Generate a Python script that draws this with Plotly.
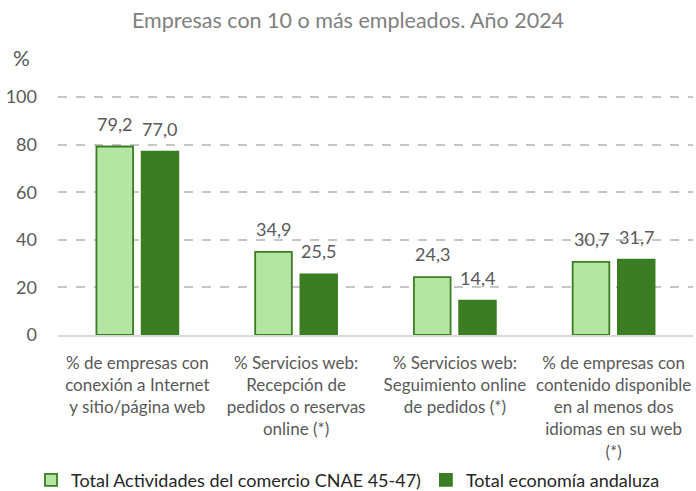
import plotly.graph_objects as go

# Data
categories = [
    '% de empresas con<br>conexión a Internet<br>y sitio/página web',
    '% Servicios web:<br>Recepción de<br>pedidos o reservas<br>online (*)',
    '% Servicios web:<br>Seguimiento online<br>de pedidos (*)',
    '% de empresas con<br>contenido disponible<br>en al menos dos<br>idiomas en su web<br>(*)',
]
comercio = [79.2, 34.9, 24.3, 30.7]
andalucia = [77.0, 25.5, 14.4, 31.7]
series_names = ['Total Actividades del comercio CNAE 45-47)', 'Total economía andaluza']
y_ticks = [0, 20, 40, 60, 80, 100]

colors = {
    'light': '#b4e5a2',
    'dark': '#3a7d22',
    'text': '#595959',
    'grid': '#c6c6c6',
}
FONT = 'Lato, Calibri, sans-serif'

fig = go.Figure()
fig.add_trace(go.Bar(
    x=categories, y=comercio, name=series_names[0],
    marker=dict(color=colors['light'], line=dict(color=colors['dark'], width=1.8)),
))
fig.add_trace(go.Bar(
    x=categories, y=andalucia, name=series_names[1],
    marker=dict(color=colors['dark'], line=dict(color=colors['dark'], width=1.8)),
))

# value labels above the bars
for vals, shift in ((comercio, -22.5), (andalucia, 22.5)):
    for cat, v in zip(categories, vals):
        fig.add_annotation(
            x=cat, y=v, text=f'{v:.1f}'.replace('.', ','),
            xshift=shift, yshift=23, yanchor='middle', showarrow=False,
            font=dict(size=18, color=colors['text'], family=FONT),
        )

# "%" unit label above the y axis
fig.add_annotation(
    text='%', x=-0.058, y=1.158, xref='paper', yref='paper',
    xanchor='center', yanchor='middle', showarrow=False,
    font=dict(size=21, color=colors['text'], family=FONT),
)

fig.update_layout(
    width=696, height=491,
    title=dict(text='Empresas con 10 o más empleados. Año 2024', x=0.5, xanchor='center',
               y=0.959, yanchor='middle', yref='container',
               font=dict(size=21.5, color='#808080', family=FONT)),
    font=dict(family=FONT, color=colors['text']),
    plot_bgcolor='white', paper_bgcolor='white',
    barmode='group', bargap=0.43, bargroupgap=0.19,
    margin=dict(l=58, r=3, t=95, b=156),
    showlegend=True,
    legend=dict(orientation='h', x=0.5, xanchor='center', xref='container',
                y=0.022, yanchor='middle', yref='container',
                font=dict(size=18, color='#262626', family=FONT),
                itemwidth=30, traceorder='normal'),
)

fig.update_xaxes(
    showline=True, linecolor='#d9d9d9', linewidth=1.5, automargin=False,
    tickfont=dict(size=17, color=colors['text'], family=FONT), ticks='',
    ticklabelstandoff=12,
)
fig.update_yaxes(
    range=[0, 100.84], tickvals=y_ticks, showgrid=True, gridcolor=colors['grid'],
    griddash='dash', gridwidth=1.5, zeroline=False, ticklabelstandoff=20,
    automargin=False,
    tickfont=dict(size=18, color=colors['text'], family=FONT),
)

# drop the default page margin so the chart sits at the window's corner
fig.write_html('out.html', config={'displayModeBar': False},
               post_script="document.body.style.margin='0';")
